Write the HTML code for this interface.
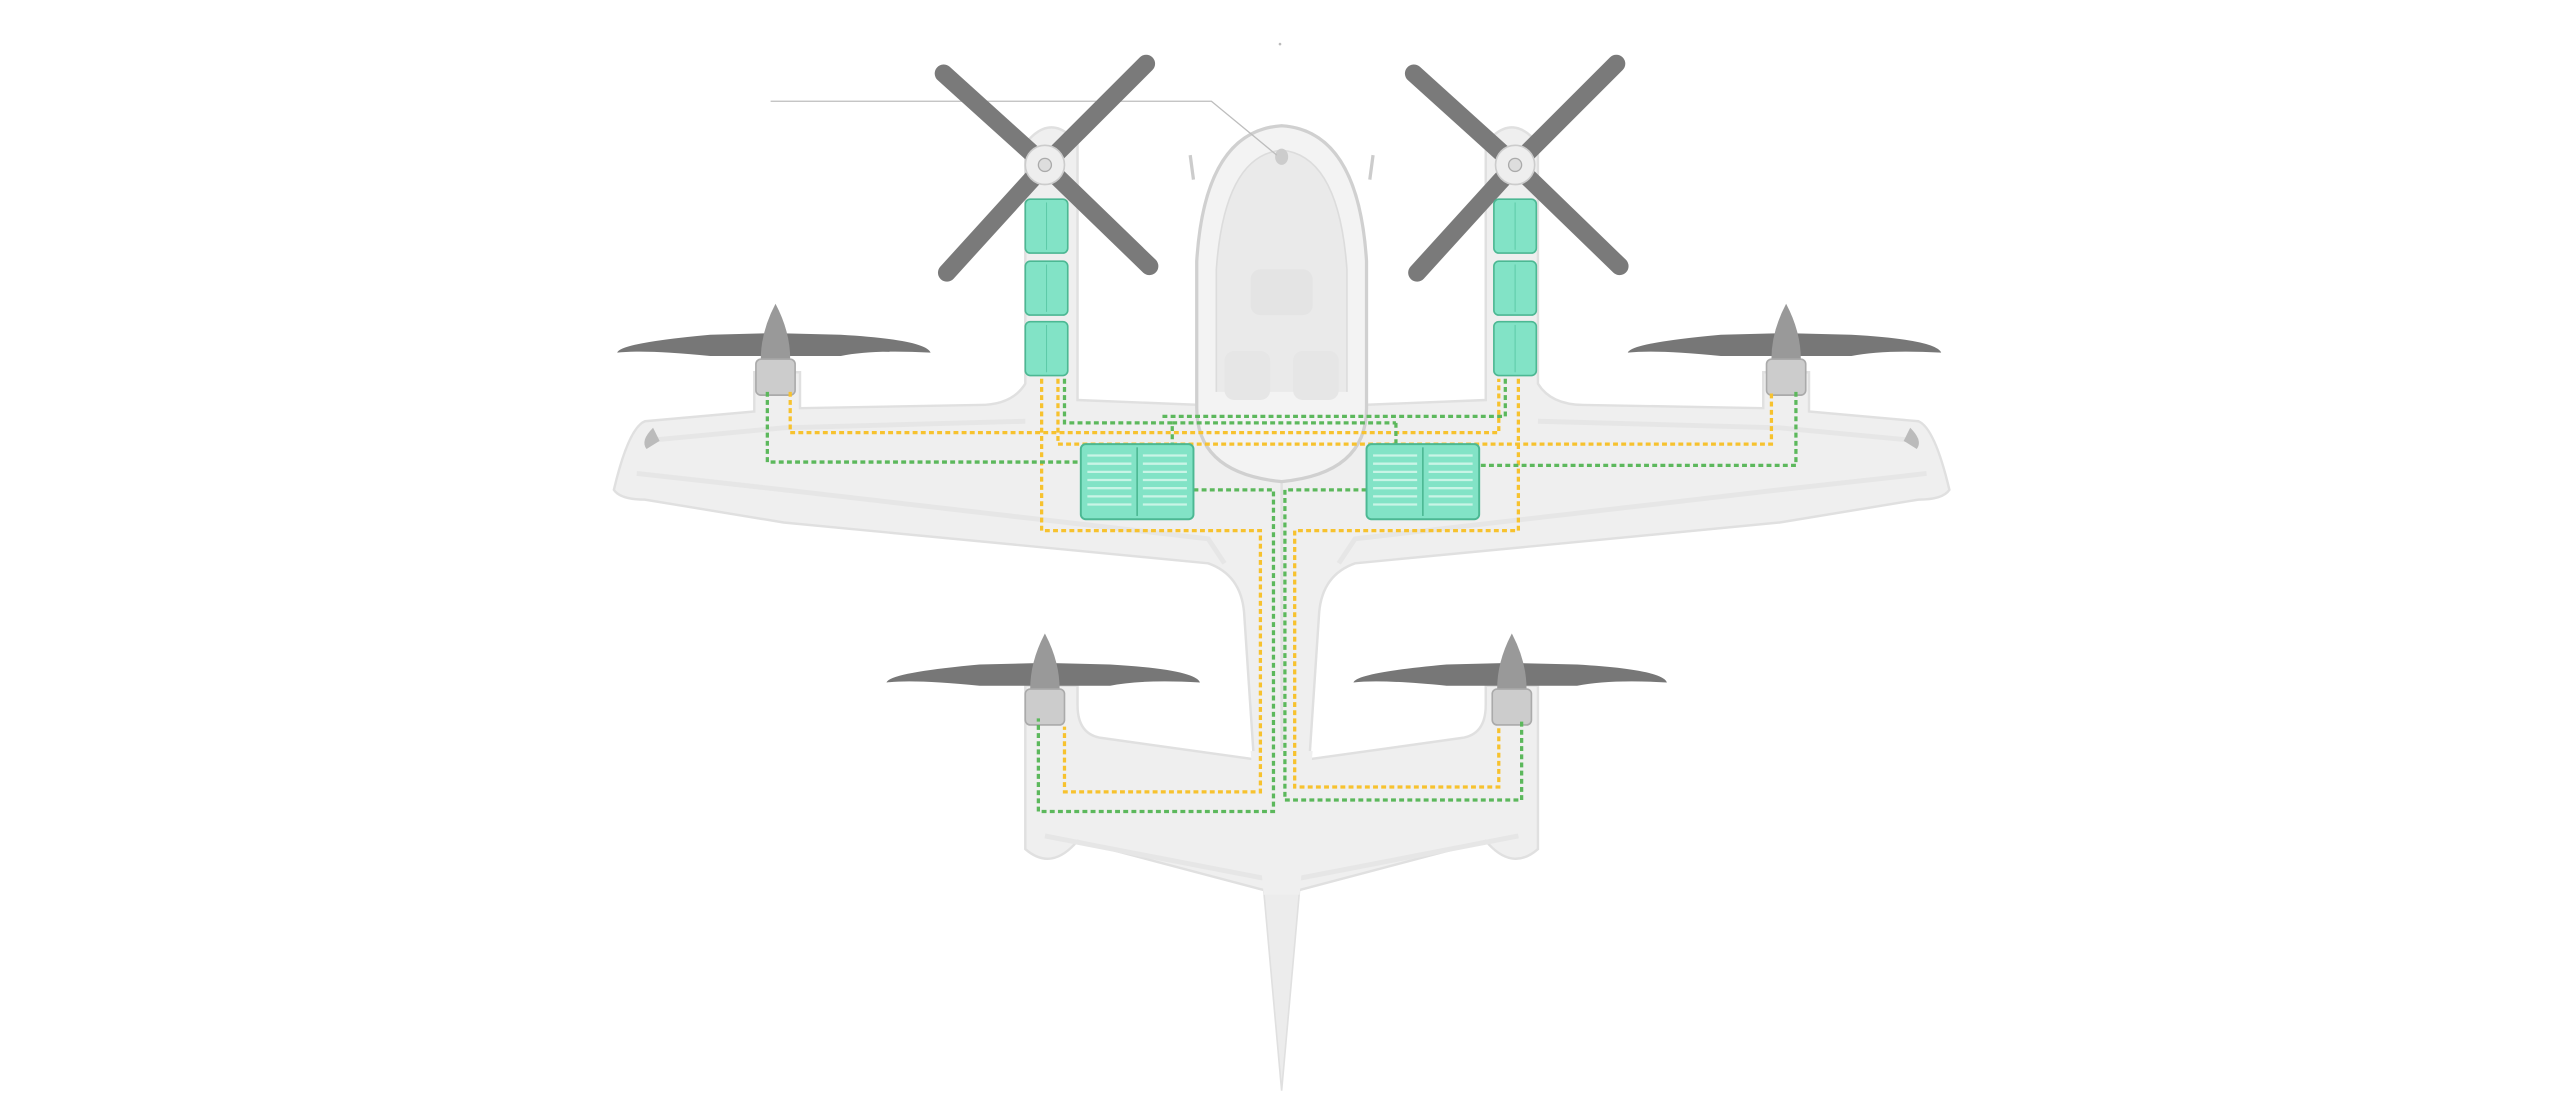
<!DOCTYPE html>
<html><head><meta charset="utf-8"><style>
html,body{margin:0;padding:0;background:#fff;}
svg{display:block;}
</style></head><body>
<svg width="2560" height="1107" viewBox="0 0 1568 678" preserveAspectRatio="none" xmlns="http://www.w3.org/2000/svg">
<defs>
<g id="half">
<path d="M785 250 L660 245 L660 88 Q644 68 628 88 L628 235 Q620 248 600 248 L490 250 L490 228 L462 228 L462 252 L395 258 Q385 262 376 300 Q380 306 395 306 L480 320 L740 345 Q760 352 762 375 L768 465 L675 452 Q660 450 660 432 L660 420 L628 420 L628 520 Q644 534 660 515 L785 548 Z" fill="#efefef" stroke="#e0e0e0" stroke-width="1.5"/>
<path d="M395 270 L480 262 L628 258 M390 290 L480 300 L740 330 L750 345 M640 512 L785 540" fill="none" stroke="#e6e6e6" stroke-width="3"/>
<path d="M400 262 Q392 270 396 275 L404 270Z" fill="#bbb"/>
</g>
<g id="frontprop">
<line x1="0" y1="0" x2="-62" y2="-56" stroke="#7a7a7a" stroke-width="11" stroke-linecap="round"/>
<line x1="0" y1="0" x2="62" y2="-62" stroke="#7a7a7a" stroke-width="11" stroke-linecap="round"/>
<line x1="0" y1="0" x2="-60" y2="66" stroke="#7a7a7a" stroke-width="11" stroke-linecap="round"/>
<line x1="0" y1="0" x2="64" y2="62" stroke="#7a7a7a" stroke-width="11" stroke-linecap="round"/>
<circle r="12" fill="#eee" stroke="#ccc"/>
<circle r="4" fill="#ddd" stroke="#aaa" stroke-width="0.8"/>
</g>
<g id="sideprop">
<path d="M-97 8 Q-95 2 -40 -3 L0 -4 L40 -3 Q92 0 95 8 Q60 6 40 10 L-40 10 Q-80 6 -97 8Z" fill="#777"/>
<path d="M0 -22 Q-9 -5 -9 12 L9 12 Q9 -5 0 -22Z" fill="#999"/>
<rect x="-12" y="12" width="24" height="22" rx="3" fill="#ccc" stroke="#aaa"/>
</g>
<g id="mod">
<rect width="26" height="33" rx="3" fill="#82e3c6" stroke="#4cb893" stroke-width="1"/>
<line x1="13" y1="2" x2="13" y2="31" stroke="#5cc9a6" stroke-width="0.6"/>
</g>
<g id="pack">
<rect width="69" height="46" rx="3" fill="#82e3c6" stroke="#4cb893" stroke-width="1.2"/>
<line x1="34.5" y1="2" x2="34.5" y2="44" stroke="#4cb893" stroke-width="1"/>
<g stroke="#c9f4e6" stroke-width="1.4">
<line x1="4" y1="7" x2="31" y2="7"/><line x1="38" y1="7" x2="65" y2="7"/>
<line x1="4" y1="12" x2="31" y2="12"/><line x1="38" y1="12" x2="65" y2="12"/>
<line x1="4" y1="17" x2="31" y2="17"/><line x1="38" y1="17" x2="65" y2="17"/>
<line x1="4" y1="22" x2="31" y2="22"/><line x1="38" y1="22" x2="65" y2="22"/>
<line x1="4" y1="27" x2="31" y2="27"/><line x1="38" y1="27" x2="65" y2="27"/>
<line x1="4" y1="32" x2="31" y2="32"/><line x1="38" y1="32" x2="65" y2="32"/>
<line x1="4" y1="37" x2="31" y2="37"/><line x1="38" y1="37" x2="65" y2="37"/>
</g>
</g>
</defs>

<!-- airframe -->
<use href="#half"/>
<use href="#half" transform="translate(1570 0) scale(-1 1)"/>
<path d="M774 545 L785 668 L796 545 Z" fill="#ececec" stroke="#e0e0e0"/>
<path d="M766 460 L774 548 L796 548 L804 460Z" fill="#efefef"/>

<!-- cockpit -->
<path d="M733 250 L733 160 Q738 80 785 77 Q832 80 837 160 L837 250 Q837 290 785 295 Q733 290 733 250Z" fill="#f3f3f3" stroke="#d0d0d0" stroke-width="2"/>
<path d="M745 240 L745 165 Q750 95 785 92 Q820 95 825 165 L825 240" fill="#eaeaea" stroke="#dcdcdc"/>
<ellipse cx="785" cy="96" rx="4" ry="5" fill="#ccc"/>
<rect x="766" y="165" width="38" height="28" rx="6" fill="#e4e4e4"/>
<rect x="750" y="215" width="28" height="30" rx="6" fill="#e6e6e6"/>
<rect x="792" y="215" width="28" height="30" rx="6" fill="#e6e6e6"/>
<path d="M729 95 L731 110 M841 95 L839 110" stroke="#ccc" stroke-width="2"/>

<!-- annotation -->
<path d="M472 62 L742 62 L782 95" fill="none" stroke="#bdbdbd" stroke-width="0.8"/>
<circle cx="784" cy="27" r="0.8" fill="#bbb"/>

<!-- props -->
<use href="#frontprop" x="640" y="101"/>
<use href="#frontprop" x="928" y="101"/>
<use href="#sideprop" x="475" y="208"/>
<use href="#sideprop" x="1094" y="208"/>
<use href="#sideprop" x="640" y="410"/>
<use href="#sideprop" x="926" y="410"/>

<!-- wires -->
<g fill="none" stroke-width="2" stroke-dasharray="3 2">
<g stroke="#f7c22e">
<path d="M484 240 L484 265 L918 265 L918 232"/>
<path d="M648 232 L648 272 L1085 272 L1085 240"/>
<path d="M638 232 L638 325 L772 325 L772 485 L652 485 L652 445"/>
<path d="M930 232 L930 325 L793 325 L793 482 L918 482 L918 445"/>
</g>
<g stroke="#5cb85c">
<path d="M470 240 L470 283 L662 283"/>
<path d="M1100 240 L1100 285 L905 285"/>
<path d="M652 232 L652 259 L718 259 L718 272"/>
<path d="M922 232 L922 255 L712 255"/>
<path d="M855 259 L855 272 M718 259 L855 259"/>
<path d="M731 300 L780 300 L780 497 L636 497 L636 440"/>
<path d="M837 300 L787 300 L787 490 L932 490 L932 440"/>
</g>
</g>

<!-- batteries -->
<use href="#mod" x="628" y="122"/><use href="#mod" x="628" y="160"/><use href="#mod" x="628" y="197"/>
<use href="#mod" x="915" y="122"/><use href="#mod" x="915" y="160"/><use href="#mod" x="915" y="197"/>
<use href="#pack" x="662" y="272"/>
<use href="#pack" x="837" y="272"/>
</svg>
</body></html>
